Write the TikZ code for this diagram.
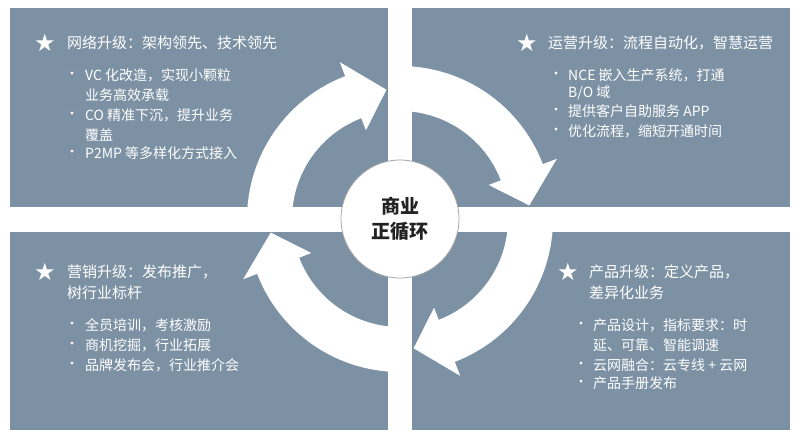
\documentclass[tikz,border=0pt]{standalone}
\usepackage{fontspec}
\setmainfont{Noto Sans CJK SC}
\newfontfamily\symf{DejaVu Sans}
\definecolor{panel}{HTML}{7C91A4}
\definecolor{ink}{HTML}{222222}
\tikzset{
  panelbox/.style={fill=panel,draw=none},
  ttl/.style={text=white,anchor=west,font=\fontsize{15}{17}\selectfont,inner sep=0pt},
  txt/.style={text=white,anchor=west,font=\fontsize{14}{16}\selectfont,inner sep=0pt},
  bul/.style={text=white,anchor=center,font=\fontsize{13}{15}\selectfont,inner sep=0pt},
  starn/.style={text=white,anchor=center,font=\symf\fontsize{24}{24}\selectfont,inner sep=0pt},
  arrowshape/.style={fill=white,draw=none}
}
\begin{document}
\begin{tikzpicture}[x=1pt,y=1pt]
\useasboundingbox (0,0) rectangle (800,440);
\fill[white] (0,0) rectangle (800,440);
\path[panelbox] (10,233) rectangle (388,432);
\path[panelbox] (412,233) rectangle (790,432);
\path[panelbox] (10,10) rectangle (388,208);
\path[panelbox] (412,10) rectangle (790,208);
\begin{scope}[shift={(400,221)}]
\foreach \s in {180,90,0,-90}{
  \pgfmathsetmacro\b{\s-69}
  \pgfmathsetmacro\t{\s-84}
  \fill[arrowshape] (\s:153) arc[start angle=\s,end angle=\b,radius=153]
    -- (\b:168) -- (\t:130) -- (\b:95) -- (\b:108)
    arc[start angle=\b,end angle=\s,radius=108] -- cycle;
}
\end{scope}
\node[circle,fill=white,draw=gray!70,line width=0.8pt,minimum size=118pt,inner sep=0pt,
  align=center,text=ink,font=\bfseries\fontsize{19}{25}\selectfont] (c) at (400,221) {商业\\正循环};
% top-left
\node[starn] (s1) at (45,397) {★};
\node[ttl] (t1) at (67,397) {网络升级：架构领先、技术领先};
\node[bul] (b11) at (72,365) {•}; \node[txt] (l11) at (85,365) {VC 化改造，实现小颗粒};
\node[txt] (l12) at (85,345) {业务高效承载};
\node[bul] (b12) at (72,325) {•}; \node[txt] (l13) at (85,325) {CO 精准下沉，提升业务};
\node[txt] (l14) at (85,305) {覆盖};
\node[bul] (b13) at (72,287) {•}; \node[txt] (l15) at (85,287) {P2MP 等多样化方式接入};
% top-right
\node[starn] (s2) at (527,397) {★};
\node[ttl] (t2) at (548,397) {运营升级：流程自动化，智慧运营};
\node[bul] (b21) at (556,365) {•}; \node[txt] (l21) at (568,365) {NCE 嵌入生产系统，打通};
\node[txt] (l22) at (568,347) {B/O 域};
\node[bul] (b22) at (556,329) {•}; \node[txt] (l23) at (568,329) {提供客户自助服务 APP};
\node[bul] (b23) at (556,309) {•}; \node[txt] (l24) at (568,309) {优化流程，缩短开通时间};
% bottom-left
\node[starn] (s3) at (45,168) {★};
\node[ttl] (t3) at (67,168) {营销升级：发布推广，};
\node[ttl] (t3b) at (67,147) {树行业标杆};
\node[bul] (b31) at (72,115) {•}; \node[txt] (l31) at (85,115) {全员培训，考核激励};
\node[bul] (b32) at (72,95) {•}; \node[txt] (l32) at (85,95) {商机挖掘，行业拓展};
\node[bul] (b33) at (72,75) {•}; \node[txt] (l33) at (85,75) {品牌发布会，行业推介会};
% bottom-right
\node[starn] (s4) at (568,168) {★};
\node[ttl] (t4) at (589,168) {产品升级：定义产品，};
\node[ttl] (t4b) at (589,147) {差异化业务};
\node[bul] (b41) at (581,115) {•}; \node[txt] (l41) at (593,115) {产品设计，指标要求：时};
\node[txt] (l42) at (593,95) {延、可靠、智能调速};
\node[bul] (b42) at (581,75) {•}; \node[txt] (l43) at (593,75) {云网融合：云专线 + 云网};
\node[bul] (b43) at (581,57) {•}; \node[txt] (l44) at (593,57) {产品手册发布};
\end{tikzpicture}
\end{document}
